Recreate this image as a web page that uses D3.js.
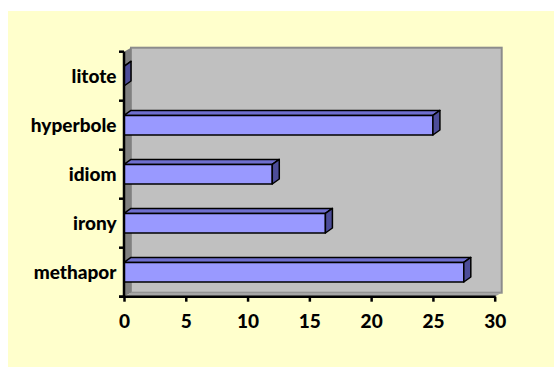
<!DOCTYPE html>
<html>
<head>
<meta charset="utf-8">
<script src="https://cdn.jsdelivr.net/npm/d3@7"></script>
<style>
  html, body { margin: 0; padding: 0; background: #fff; }
  svg { display: block; }
  text { font-family: Lato, "Open Sans", sans-serif; font-weight: 900; }
</style>
</head>
<body>
<svg id="chart" width="554" height="367"></svg>
<script>
// data, bottom to top as in the picture
var categories = ["methapor", "irony", "idiom", "hyperbole", "litote"];
var values = [27.5, 16.3, 12, 25, 0];
var xTicks = [0, 5, 10, 15, 20, 25, 30];

var W = 554, H = 367;
var depth = {dx: 7, dy: -4};
var barDepth = {dx: 7, dy: -5};

var svg = d3.select("#chart");

// yellow chart area
svg.append("rect")
  .attr("x", 8).attr("y", 11)
  .attr("width", W - 8).attr("height", H - 11)
  .attr("fill", "#FFFFCC");

var x = d3.scaleLinear().domain([0, 30]).range([124, 494.7]);
var y = d3.scaleBand().domain(categories).range([296.7, 51.7]);
var y0 = y.range()[0], y1 = y.range()[1];
var x0 = x.range()[0], x1 = x.range()[1];

// back wall
svg.append("rect")
  .attr("x", x0 + depth.dx).attr("y", y1 + depth.dy)
  .attr("width", x1 - x0).attr("height", y0 - y1)
  .attr("fill", "#C0C0C0")
  .attr("stroke", "#8C8C8C")
  .attr("stroke-width", 2);

// side wall
svg.append("polygon")
  .attr("points", [[x0, y1], [x0 + depth.dx, y1 + depth.dy],
    [x0 + depth.dx, y0 + depth.dy], [x0, y0]].join(" "))
  .attr("fill", "#808080");

// floor
svg.append("polygon")
  .attr("points", [[x0, y0], [x0 + depth.dx, y0 + depth.dy],
    [x1 + depth.dx, y0 + depth.dy], [x1, y0]].join(" "))
  .attr("fill", "#A6A6A6");

// bars
var bh = y.bandwidth() * 0.4;
var gBars = svg.append("g");
categories.forEach(function(c, i){
  var v = values[i];
  var top = y(c) + (y.bandwidth() - bh) / 2;
  var xe = x(v);
  var g = gBars.append("g")
    .attr("stroke", "#000")
    .attr("stroke-width", 1.5)
    .attr("stroke-linejoin", "round");
  // top face
  g.append("polygon")
    .attr("points", [[x0, top], [x0 + barDepth.dx, top + barDepth.dy],
      [xe + barDepth.dx, top + barDepth.dy], [xe, top]].join(" "))
    .attr("fill", "#6F6FCF");
  // front face
  g.append("rect")
    .attr("x", x0).attr("y", top)
    .attr("width", xe - x0).attr("height", bh)
    .attr("fill", "#9999FF");
  // end face
  g.append("polygon")
    .attr("points", [[xe, top], [xe + barDepth.dx, top + barDepth.dy],
      [xe + barDepth.dx, top + bh + barDepth.dy], [xe, top + bh]].join(" "))
    .attr("fill", "#4D4D99");
});

// x axis
var xAxis = svg.append("g")
  .attr("transform", "translate(0," + y0 + ")")
  .call(d3.axisBottom(x).tickValues(xTicks).tickSize(5).tickPadding(13).tickSizeOuter(0));
xAxis.select(".domain").attr("stroke", "#000").attr("stroke-width", 2.5)
  .attr("d", "M" + (x0 - 5) + ",0H" + (x1 + 1));
xAxis.selectAll(".tick line").attr("stroke", "#000").attr("stroke-width", 2.5);
xAxis.selectAll(".tick text")
  .attr("fill", "#000")
  .style("font-size", "19px")
  .style("font-family", "Lato, 'Open Sans', sans-serif")
  .style("font-weight", "900");

// y axis: line, ticks at band edges, labels at band centres
var yEdges = categories.map(function(c){ return y(c) + y.bandwidth(); }).concat([y1]);
var gy = svg.append("g");
gy.append("line")
  .attr("x1", x0).attr("x2", x0)
  .attr("y1", y1).attr("y2", y0)
  .attr("stroke", "#000").attr("stroke-width", 2.5);
gy.selectAll("line.tk").data(yEdges).enter().append("line")
  .attr("class", "tk")
  .attr("x1", x0 - 5).attr("x2", x0)
  .attr("y1", function(d){ return d; })
  .attr("y2", function(d){ return d; })
  .attr("stroke", "#000").attr("stroke-width", 2.5);
gy.selectAll("text").data(categories).enter().append("text")
  .attr("x", x0 - 7.5)
  .attr("y", function(d){ return y(d) + y.bandwidth() / 2; })
  .attr("dy", "0.35em")
  .attr("text-anchor", "end")
  .style("font-size", "19px")
  .text(function(d){ return d; });
</script>
</body>
</html>
